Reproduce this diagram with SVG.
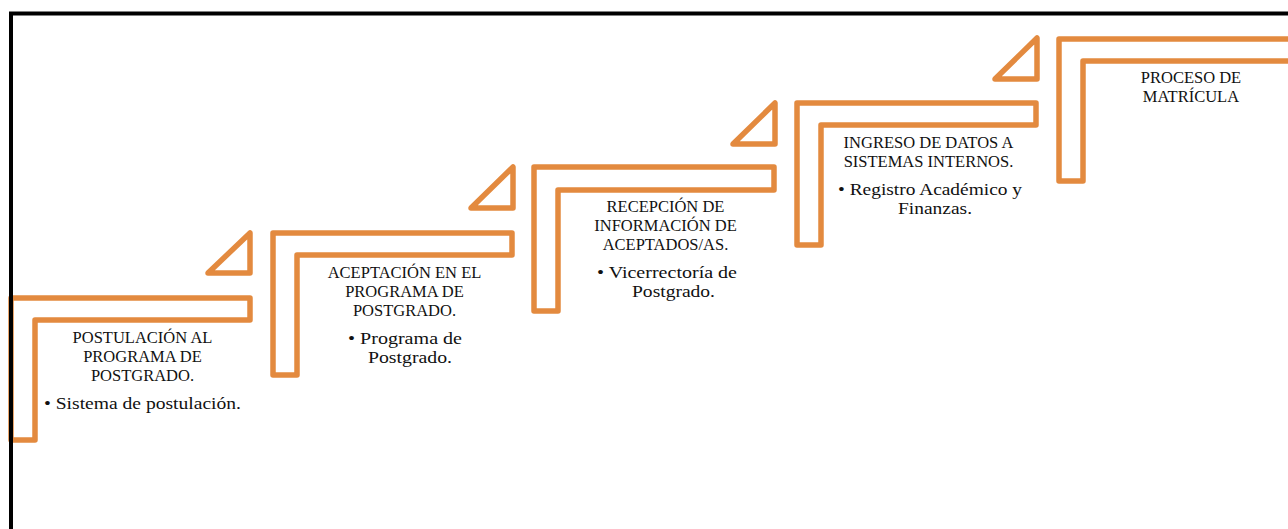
<svg xmlns="http://www.w3.org/2000/svg" width="1288" height="529" viewBox="0 0 1288 529">
<style>
.step{fill:none;stroke:#E38A3F;stroke-width:5.5;stroke-linejoin:round}
.t{font-family:"Liberation Serif","DejaVu Serif",serif;font-size:16.5px;fill:#111;text-anchor:middle}
.b{font-size:17.5px}
</style>
<rect x="0" y="0" width="1288" height="529" fill="#ffffff"/>
<g id="connectors">
<polygon class="step" points="250,233 250,273 208,273"/>
<polygon class="step" points="513,167 513,208 471,208"/>
<polygon class="step" points="775,103 775,144 733,144"/>
<polygon class="step" points="1037,38 1037,79 995,79"/>
</g>
<g id="step1">
<polygon class="step" points="11,298 250,298 250,320 35,320 35,440 11,440"/>
<text class="t" x="142.5" y="343">POSTULACIÓN AL</text>
<text class="t" x="142.5" y="362">PROGRAMA DE</text>
<text class="t" x="142.5" y="381">POSTGRADO.</text>
<text class="t b" x="142.5" y="409" textLength="197" lengthAdjust="spacingAndGlyphs">• Sistema de postulación.</text>
</g>
<g id="step2">
<polygon class="step" points="273,233 512,233 512,255 297,255 297,375 273,375"/>
<text class="t" x="404.5" y="278">ACEPTACIÓN EN EL</text>
<text class="t" x="404.5" y="297">PROGRAMA DE</text>
<text class="t" x="404.5" y="316">POSTGRADO.</text>
<text class="t b" x="405" y="344" textLength="114" lengthAdjust="spacingAndGlyphs">• Programa de</text>
<text class="t b" x="410" y="363" textLength="84" lengthAdjust="spacingAndGlyphs">Postgrado.</text>
</g>
<g id="step3">
<polygon class="step" points="534,167 774,167 774,190 558,190 558,311 534,311"/>
<text class="t" x="665.5" y="212">RECEPCIÓN DE</text>
<text class="t" x="665.5" y="231">INFORMACIÓN DE</text>
<text class="t" x="665.5" y="250">ACEPTADOS/AS.</text>
<text class="t b" x="667" y="278" textLength="140" lengthAdjust="spacingAndGlyphs">• Vicerrectoría de</text>
<text class="t b" x="673.5" y="297" textLength="83" lengthAdjust="spacingAndGlyphs">Postgrado.</text>
</g>
<g id="step4">
<polygon class="step" points="797,103 1036,103 1036,125 821,125 821,245 797,245"/>
<text class="t" x="928.5" y="148">INGRESO DE DATOS A</text>
<text class="t" x="928.5" y="167">SISTEMAS INTERNOS.</text>
<text class="t b" x="930" y="195" textLength="184" lengthAdjust="spacingAndGlyphs">• Registro Académico y</text>
<text class="t b" x="935" y="214" textLength="74" lengthAdjust="spacingAndGlyphs">Finanzas.</text>
</g>
<g id="step5">
<polygon class="step" points="1059,39 1300,39 1300,61 1083,61 1083,181 1059,181"/>
<text class="t" x="1191" y="83">PROCESO DE</text>
<text class="t" x="1191" y="102">MATRÍCULA</text>
</g>
<rect x="11" y="13.5" width="1300" height="600" fill="none" stroke="#000" stroke-width="4"/>
</svg>
